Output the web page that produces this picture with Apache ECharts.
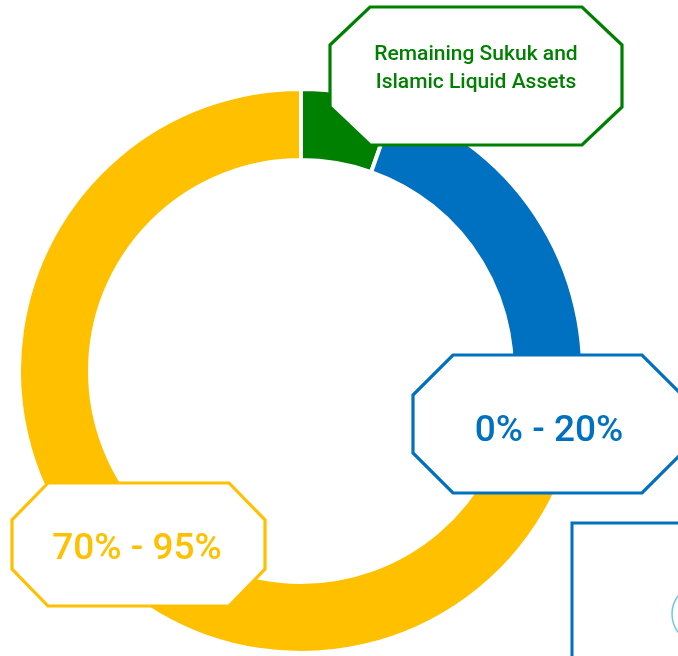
<!DOCTYPE html>
<html>
<head>
<meta charset="utf-8">
<script src="https://cdn.jsdelivr.net/npm/echarts@6/dist/echarts.min.js"></script>
<style>
html,body{margin:0;padding:0;background:#fff;}
#c{width:678px;height:656px;}
</style>
</head>
<body>
<div id="c"></div>
<script>
// Data
const categories = ['Remaining Sukuk and\nIslamic Liquid Assets', '0% - 20%', '70% - 95%'];
const values = [5.4, 22, 72.6];
const colors = ['#008000', '#0070C0', '#FFC000'];

const chart = echarts.init(document.getElementById('c'), null, {renderer: 'canvas'});

function octagon(x1, y1, x2, y2, cx, cy) {
  return [
    [x1 + cx, y1], [x2 - cx, y1], [x2, y1 + cy], [x2, y2 - cy],
    [x2 - cx, y2], [x1 + cx, y2], [x1, y2 - cy], [x1, y1 + cy]
  ];
}

function box(points, color) {
  return {
    type: 'polygon', z: 10,
    shape: { points: points },
    style: { fill: '#ffffff', stroke: color, lineWidth: 3.2 }
  };
}
function label(text, x, y, color, size, lh, weight) {
  return {
    type: 'text', z: 11,
    style: {
      text: text, x: x, y: y, fill: color,
      font: (weight || 'normal') + ' ' + size + 'px Roboto',
      lineHeight: lh,
      align: 'center', verticalAlign: 'middle',
      textAlign: 'center', textVerticalAlign: 'middle'
    }
  };
}

const option = {
  animation: false,
  backgroundColor: '#ffffff',
  series: [{
    type: 'pie',
    center: [301, 371],
    radius: [211, 282],
    startAngle: 90,
    clockwise: true,
    silent: true,
    label: { show: false },
    labelLine: { show: false },
    emphasis: { disabled: true },
    itemStyle: { borderColor: '#ffffff', borderWidth: 4 },
    data: categories.map((n, i) => ({ name: n, value: values[i], itemStyle: { color: colors[i] } }))
  }],
  graphic: {
    elements: [
      box(octagon(330, 7, 622, 145, 40, 38), colors[0]),
      label(categories[0], 476, 69, colors[0], 21, 28, '500'),
      box(octagon(413, 355, 682, 493, 40, 40), colors[1]),
      label(categories[1], 549, 432, colors[1], 37, 40, '500'),
      box(octagon(12, 483, 265, 606, 36, 37), colors[2]),
      label(categories[2], 137, 550, colors[2], 37, 40, '500'),
      {
        type: 'rect', z: 10,
        shape: { x: 572, y: 523, width: 130, height: 160 },
        style: { fill: '#ffffff', stroke: '#0070C0', lineWidth: 3 }
      },
      {
        type: 'circle', z: 11,
        shape: { cx: 702, cy: 614, r: 30 },
        style: { fill: 'none', stroke: '#6CC4EE', lineWidth: 1.5 }
      }
    ]
  }
};
chart.setOption(option);
</script>
</body>
</html>
